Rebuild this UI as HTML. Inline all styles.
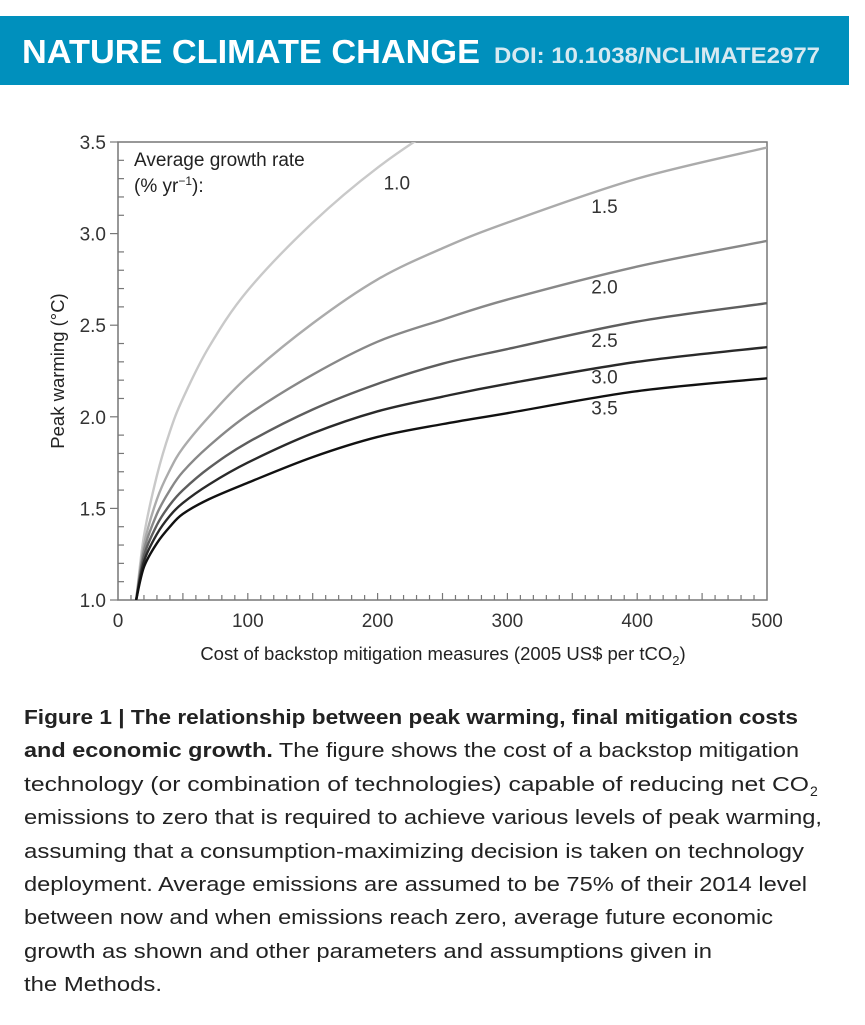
<!DOCTYPE html>
<html><head><meta charset="utf-8"><style>
body{margin:0;background:#fff;width:865px;height:1020px;overflow:hidden;font-family:"Liberation Sans",sans-serif;}
</style></head><body>
<svg width="865" height="1020" viewBox="0 0 865 1020" xmlns="http://www.w3.org/2000/svg" font-family="Liberation Sans, sans-serif">
<rect x="0" y="16" width="849" height="69" fill="#0090bd"/>
<text x="22" y="63" fill="#fff" font-size="33" font-weight="bold" textLength="458" lengthAdjust="spacingAndGlyphs">NATURE CLIMATE CHANGE</text>
<text x="494" y="63" fill="#d6e9f1" font-size="22" font-weight="bold" textLength="326" lengthAdjust="spacingAndGlyphs">DOI: 10.1038/NCLIMATE2977</text>
<g id="chart"></g>
<g id="caption" font-size="20" fill="#222">
<text x="24" y="724" textLength="774" lengthAdjust="spacingAndGlyphs"><tspan font-weight="bold">Figure 1 | The relationship between peak warming, final mitigation costs</tspan></text>
<text x="24" y="757" textLength="775" lengthAdjust="spacingAndGlyphs"><tspan font-weight="bold">and economic growth.</tspan> The figure shows the cost of a backstop mitigation</text>
<text x="24" y="791" textLength="785" lengthAdjust="spacingAndGlyphs">technology (or combination of technologies) capable of reducing net CO</text>
<text x="810" y="796" font-size="14">2</text>
<text x="24" y="824" textLength="798" lengthAdjust="spacingAndGlyphs">emissions to zero that is required to achieve various levels of peak warming,</text>
<text x="24" y="858" textLength="780" lengthAdjust="spacingAndGlyphs">assuming that a consumption-maximizing decision is taken on technology</text>
<text x="24" y="891" textLength="783" lengthAdjust="spacingAndGlyphs">deployment. Average emissions are assumed to be 75% of their 2014 level</text>
<text x="24" y="924" textLength="749" lengthAdjust="spacingAndGlyphs">between now and when emissions reach zero, average future economic</text>
<text x="24" y="958" textLength="688" lengthAdjust="spacingAndGlyphs">growth as shown and other parameters and assumptions given in</text>
<text x="24" y="991" textLength="138" lengthAdjust="spacingAndGlyphs">the Methods.</text>
</g>
</svg>
<script>
const xValues=[14,20,30,40,50,70,100,150,200,250,300,400,500];
const rates=["1.0","1.5","2.0","2.5","3.0","3.5"];
const series10=[1.0,1.35,1.68,1.92,2.1,2.38,2.69,3.06,3.36,3.6,3.8,4.15,4.45];
const series15=[1.0,1.30,1.55,1.71,1.83,2.00,2.22,2.51,2.75,2.92,3.06,3.30,3.47];
const series20=[1.0,1.27,1.47,1.60,1.70,1.84,2.01,2.23,2.41,2.53,2.64,2.82,2.96];
const series25=[1.0,1.24,1.41,1.52,1.60,1.72,1.86,2.04,2.18,2.29,2.37,2.52,2.62];
const series30=[1.0,1.21,1.36,1.46,1.53,1.63,1.75,1.91,2.03,2.11,2.18,2.30,2.38];
const series35=[1.0,1.18,1.31,1.40,1.47,1.55,1.64,1.78,1.89,1.96,2.02,2.14,2.21];
const xTicks=[0,100,200,300,400,500];
const yTicks=[1.0,1.5,2.0,2.5,3.0,3.5];
const labelAt=[[200,3.28],[360,3.15],[360,2.71],[360,2.42],[360,2.22],[360,2.05]];

const NS="http://www.w3.org/2000/svg";
const L=118,R=767,T=142,B=600;
const sx=v=>L+(v/500)*(R-L);
const sy=v=>B-((v-1)/2.5)*(B-T);
const g=document.getElementById('chart');
function mk(tag,a,parent){const e=document.createElementNS(NS,tag);for(const k in a)e.setAttribute(k,a[k]);(parent||g).appendChild(e);return e;}
const defs=mk('defs',{});
const cp=mk('clipPath',{id:'clip'},defs);mk('rect',{x:L,y:T,width:R-L,height:B-T},cp);
const ax='#777';
let frame=mk('rect',{x:L,y:T,width:R-L,height:B-T,fill:'none',stroke:ax,'stroke-width':1.5});


for(let v=10;v<500;v+=10){let t=mk('line',{x1:sx(v),x2:sx(v),y1:B,y2:B-(v%50===0?7:5),stroke:ax,'stroke-width':1.2});

}
for(let k=1;k<25;k++){const v=1+k*0.1;let t=mk('line',{x1:L,x2:L+(k%5===0?0:6),y1:sy(v),y2:sy(v),stroke:ax,'stroke-width':1.2});

}
xTicks.forEach(v=>{let t=mk('text',{x:sx(v),y:B+27,'font-size':19,fill:'#333','text-anchor':'middle'});t.textContent=String(v);

});
yTicks.forEach(v=>{let l=mk('line',{x1:L-8,x2:L,y1:sy(v),y2:sy(v),stroke:ax,'stroke-width':1.2});


let t=mk('text',{x:L-12,y:sy(v)+7,'font-size':19,fill:'#333','text-anchor':'end'});t.textContent=v.toFixed(1);

});
let xt=mk('text',{x:443,y:660,'font-size':18.5,fill:'#222','text-anchor':'middle'});
xt.innerHTML='Cost of backstop mitigation measures (2005 US$ per tCO<tspan font-size="13" dy="5">2</tspan><tspan dy="-5">)</tspan>';


let yt=mk('text',{x:0,y:0,'font-size':18.5,fill:'#222','text-anchor':'middle',transform:'translate(64,371) rotate(-90)'});
yt.textContent='Peak warming (°C)';


let lg=mk('text',{x:134,y:166,'font-size':19,fill:'#222'});lg.textContent='Average growth rate';


let lg2=mk('text',{x:134,y:192,'font-size':19,fill:'#222'});lg2.innerHTML='(% yr<tspan font-size="12" dy="-7">−1</tspan><tspan dy="7">):</tspan>';


const all=[series10,series15,series20,series25,series30,series35];
const cols=['#c9c9c9','#ababab','#888','#5e5e5e','#2a2a2a','#111'];
function path(vals){const p=xValues.map((x,i)=>[sx(x),sy(vals[i])]);let d='M'+p[0][0]+','+p[0][1];
for(let i=0;i<p.length-1;i++){const p0=p[Math.max(0,i-1)],p1=p[i],p2=p[i+1],p3=p[Math.min(p.length-1,i+2)];
const c1=[p1[0]+(p2[0]-p0[0])/6,p1[1]+(p2[1]-p0[1])/6],c2=[p2[0]-(p3[0]-p1[0])/6,p2[1]-(p3[1]-p1[1])/6];
d+=' C'+c1+' '+c2+' '+p2;}return d;}
all.forEach((s,i)=>{let p=mk('path',{d:path(s),fill:'none',stroke:cols[i],'stroke-width':2.4,'clip-path':'url(#clip)'});


let t=mk('text',{x:sx(labelAt[i][0])+6,y:sy(labelAt[i][1])+7,'font-size':19,fill:'#333'});t.textContent=rates[i];

});
</script>
</body></html>
